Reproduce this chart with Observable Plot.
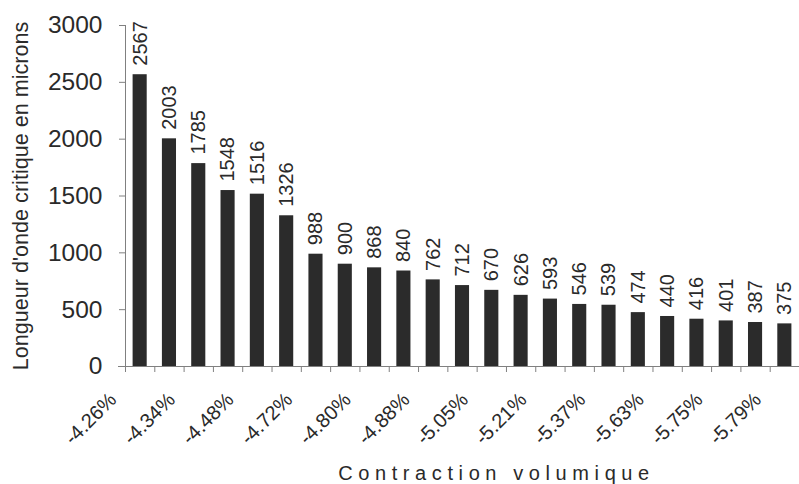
<!DOCTYPE html>
<html><head><meta charset="utf-8">
<script src="https://cdn.jsdelivr.net/npm/d3@7"></script>
<script src="https://cdn.jsdelivr.net/npm/@observablehq/plot@0.6"></script>
<style>
body{margin:0;background:#fff}
</style></head><body><div id="chart"></div>
<script>
const values = [2567,2003,1785,1548,1516,1326,988,900,868,840,762,712,670,626,593,546,539,474,440,416,401,387,375];
const xLabels = ["-4.26%","-4.34%","-4.48%","-4.72%","-4.80%","-4.88%","-5.05%","-5.21%","-5.37%","-5.63%","-5.75%","-5.79%"];
const yTicks = [0,500,1000,1500,2000,2500,3000];
const yTitle = "Longueur d'onde critique en microns";
const xTitle = "Contraction volumique";

const data = values.map((v, i) => ({i, v}));
const boundaries = d3.range(values.length + 1);
const labelPos = xLabels.map((l, k) => 2 * k + 0.5);
const ink = "#2a2a2a", axisGray = "#808080";

const chart = Plot.plot({
  width: 799, height: 484,
  marginLeft: 125, marginRight: 0, marginTop: 25, marginBottom: 118,
  x: {domain: [0, values.length]},
  y: {domain: [0, 3000]},
  style: {fontFamily: "'Liberation Sans', Arial, sans-serif", color: ink, background: "#fff"},
  marks: [
    Plot.rectY(data, {x1: d => d.i, x2: d => d.i + 1, y: "v", insetLeft: 7.6, insetRight: 7.6, fill: "#2b2b2b"}),
    Plot.ruleY([0], {stroke: axisGray, insetLeft: -7}),
    Plot.ruleX([0], {y1: 0, y2: 3000, stroke: axisGray}),
    Plot.axisY(yTicks, {tickSize: 6, tickPadding: 17, fontSize: 24.5, label: null, stroke: axisGray, fill: ink, tickFormat: d => String(d)}),
    Plot.axisX(boundaries, {tickSize: 6, tickFormat: () => "", label: null, stroke: axisGray}),
    Plot.axisX(labelPos, {tickSize: 0, tickRotate: -45, tickPadding: 30, dx: -27, fontSize: 20, label: null, fill: ink,
      tickFormat: p => xLabels[(p - 0.5) / 2]}),
    Plot.text(data, {x: d => d.i + 0.5, y: "v", text: d => String(d.v), rotate: -90, textAnchor: "start", dy: -9, fontSize: 20, fill: ink}),
    Plot.text([yTitle], {frameAnchor: "left", rotate: -90, textAnchor: "middle", dx: -104.5, fontSize: 21.6, fill: ink}),
    Plot.text([xTitle], {frameAnchor: "bottom", textAnchor: "middle", dx: 34, dy: 113, fontSize: 20, fill: ink})
  ]
});
d3.select(chart).selectAll("text").filter(function() { return this.textContent === xTitle; })
  .style("letter-spacing", "5.6px");
document.getElementById("chart").appendChild(chart);
</script></body></html>
